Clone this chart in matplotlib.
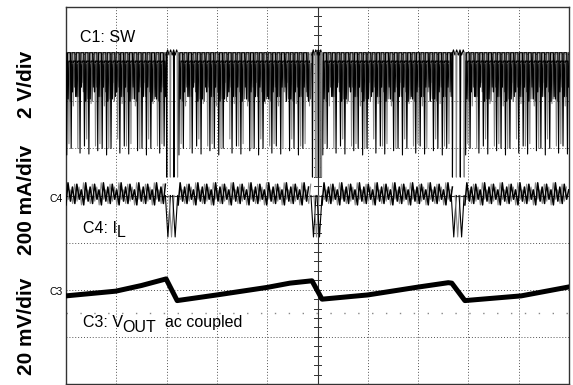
import numpy as np
import matplotlib.pyplot as plt

plt.rcParams['font.family'] = ['Liberation Sans', 'DejaVu Sans']

# scope screen: 10 x 8 divisions, values below are in divisions
n_xdiv, n_ydiv = 10, 8

# pulse skipping gaps (time, div)
gap_start = [1.99, 4.89, 7.67]
gap_end = [2.23, 5.09, 7.93]
period = 0.088  # switching period

# C1: SW
sw_high = 7.03
sw_depth_black = [4.86, 5.0, 6.1, 4.9, 5.05, 4.88, 6.3, 4.95, 5.0]
sw_depth_gray = [5.1, 5.9, 5.0, 6.4, 5.2, 5.95, 5.05]
sw_ring_low = [6.05, 6.2, 6.1, 6.3, 6.0]
sw_gap_top = 7.09
sw_gap_low = 4.39

# C4: I_L
il_tops = [4.27, 4.18, 4.24, 4.12]
il_bots = [3.80, 3.88, 3.83, 3.92]
il_base = 4.0
il_dip = 3.12

# C3: VOUT ac coupled
vout_t = [0, 0.99, 1.5, 1.99, 2.21, 3.0, 4.0, 4.45, 4.89, 5.09, 6.0, 7.02, 7.6, 7.67, 7.93, 9.05, 10.0]
vout_v = [1.87, 1.97, 2.09, 2.23, 1.77, 1.89, 2.05, 2.14, 2.19, 1.80, 1.89, 2.06, 2.15, 2.14, 1.77, 1.87, 2.06]

fig = plt.figure(figsize=(5.73, 3.85), dpi=100)
ax = fig.add_axes([66/573, 1/385, 503/573, 377/385])
ax.set_xlim(0, n_xdiv)
ax.set_ylim(0, n_ydiv)
ax.set_xticks([])
ax.set_yticks([])
for s in ax.spines.values():
    s.set_linewidth(1.0)
    s.set_color('#333333')

# graticule
for i in range(1, n_xdiv):
    if i != n_xdiv // 2:
        ax.axvline(i, color='#555555', lw=0.7, ls=(0, (1, 2)), zorder=1)
for j in range(1, n_ydiv):
    if j != n_ydiv // 2:
        ax.axhline(j, color='#555555', lw=0.7, ls=(0, (1, 2)), zorder=1)
ax.axvline(n_xdiv / 2, color='#333333', lw=0.8, zorder=1)
ax.axhline(n_ydiv / 2, color='#333333', lw=0.8, zorder=1)
for yy in np.arange(0.2, n_ydiv, 0.2):
    ax.plot([4.94, 5.06], [yy, yy], color='#333333', lw=0.7, zorder=1)
ax.axhline(1.5, color='#888888', lw=1.0, ls=(0, (1, 9)), zorder=1)

# segments between gaps
seg_a = [0] + gap_end
seg_b = gap_start + [n_xdiv]


def sw_trace(depths, offset, w=0.03, high=sw_high):
    t, v = [], []
    for a, b in zip(seg_a, seg_b):
        k = 0
        tt = a + offset
        while tt < b - 0.02:
            t += [tt, tt + w / 2, tt + w]
            v += [high, depths[k % len(depths)], high]
            tt += period
            k += 1
        t.append(np.nan)
        v.append(np.nan)
    return t, v


def il_trace(offset, tops, bots):
    t, v = [], []
    for a, b in zip(seg_a, seg_b):
        k = 0
        tt = a + offset
        while tt < b - 0.02:
            t += [tt, tt + period * 0.45]
            v += [bots[k % len(bots)], tops[k % len(tops)]]
            tt += period
            k += 1
        t.append(np.nan)
        v.append(np.nan)
    return t, v


t, v = sw_trace(sw_depth_gray, period / 2)
ax.plot(t, v, color='#8a8a8a', lw=0.8, zorder=3)
t, v = sw_trace(sw_ring_low, period / 4, w=0.035, high=6.85)
ax.plot(t, v, color='black', lw=1.0, zorder=3)
t, v = sw_trace(sw_ring_low[::-1], 3 * period / 4, w=0.03, high=6.8)
ax.plot(t, v, color='#555555', lw=0.8, zorder=3)
t, v = sw_trace(sw_depth_black, 0.0)
ax.plot(t, v, color='black', lw=0.8, zorder=4)

t, v = il_trace(period / 2, il_tops[::-1], il_bots[::-1])
ax.plot(t, v, color='#8a8a8a', lw=0.8, zorder=3)
t, v = il_trace(0.0, il_tops, il_bots)
ax.plot(t, v, color='black', lw=1.1, zorder=4)

# inside the gaps
for i, (a, b) in enumerate(zip(gap_start, gap_end)):
    w = b - a
    tt = np.linspace(a, b, 9)
    top = [sw_gap_top if k % 2 else sw_high - 0.05 for k in range(9)]
    ax.plot(tt, top, color='black', lw=0.8, zorder=4)
    for k, f in enumerate([0.05, 0.35, 0.65, 0.95]):
        c = 'black' if k % 2 == 0 else '#8a8a8a'
        x0 = a + f * w
        ax.plot([x0 - 0.01, x0, x0 + 0.01], [sw_high, sw_gap_low, sw_high], color=c, lw=0.8, zorder=4)
    if i == 1:
        ax.fill_between([a + 0.3 * w, a + 0.8 * w], sw_gap_low, sw_gap_top, color='#aaaaaa', ec='#555555', lw=0.6, zorder=3)
    for k, f in enumerate([0.15, 0.45, 0.75]):
        c = 'black' if k % 2 == 0 else '#8a8a8a'
        x0 = a + f * w
        ax.plot([x0 - 0.05, x0, x0 + 0.05], [il_base, il_dip, il_base], color=c, lw=0.8, zorder=4)

ax.plot(vout_t, vout_v, color='black', lw=3.6, solid_joinstyle='round', zorder=4)

# labels, with full size subscripts as on the scope
fig.canvas.draw()
renderer = fig.canvas.get_renderer()


def chain(x, y, parts, size=11.5):
    # parts: list of (text, dy in points)
    px, py = ax.transData.transform((x, y))
    for s, dy in parts:
        t = fig.text(px / fig.dpi / fig.get_figwidth(), (py - dy) / fig.dpi / fig.get_figheight(),
                     s, fontsize=size, va='baseline')
        px = t.get_window_extent(renderer).x1


chain(0.28, 7.25, [('C1: SW', 0)])
chain(0.33, 3.2, [('C4: I', 0), ('L', 4)])
chain(0.33, 1.22, [('C3: V', 0), ('OUT', 5), ('  ac coupled', 0)])

for label, yc in [('2 V/div', 84), ('200 mA/div', 200), ('20 mV/div', 326)]:
    fig.text(27/573, 1 - yc/385, label, rotation=90, fontsize=15, fontweight='bold', ha='center', va='center')
fig.text(63/573, 1 - 199/385, 'C4', fontsize=7.5, ha='right', va='center')
fig.text(63/573, 1 - 292/385, 'C3', fontsize=7.5, ha='right', va='center')

fig.savefig('out.png', dpi=100)
